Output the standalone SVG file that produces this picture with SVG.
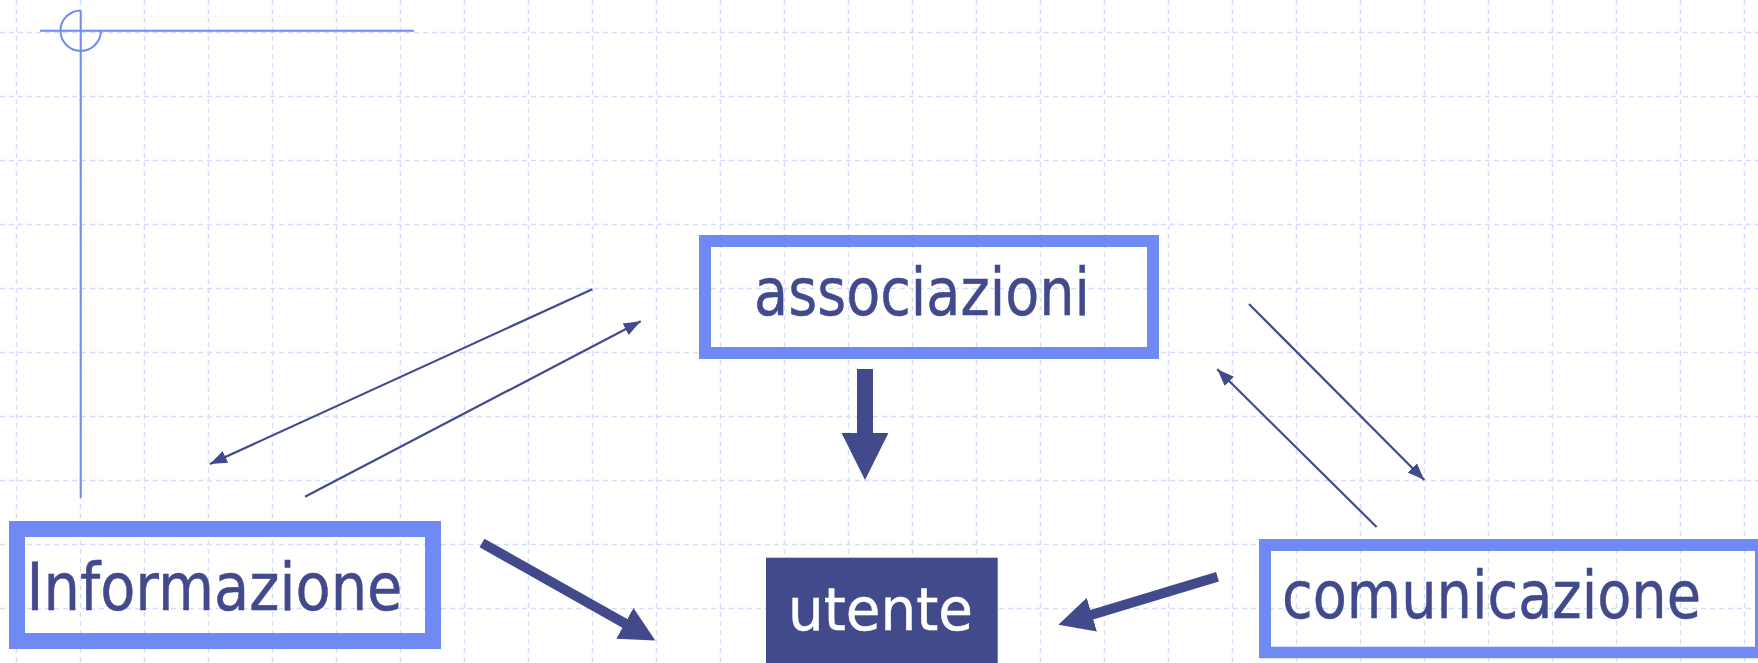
<svg xmlns="http://www.w3.org/2000/svg" width="1758" height="663" viewBox="0 0 1758 663">
  <style>
    .grid line { stroke: #d6ddfa; stroke-width: 1.5; stroke-dasharray: 5 4; }
    .deco { stroke: #6f8af5; stroke-width: 2; fill: none; }
    .box { fill: none; stroke: #6f8af5; }
    .boxp { fill: #6f8af5; fill-rule: evenodd; }
    .lbl { font-family: "DejaVu Sans", "Liberation Sans", sans-serif; fill: #424a8c; stroke: #424a8c; stroke-width: 0.5; }
    .thin { stroke: #424a8c; stroke-width: 2.2; fill: none; }
    .thick { stroke: #424a8c; fill: none; }
  </style>
  <defs>
    <marker id="headThin" markerUnits="userSpaceOnUse" viewBox="0 -8 20 16" markerWidth="20" markerHeight="16" refX="17" refY="0" orient="auto">
      <path d="M0,-6.5 L17,0 L0,6.5 z" fill="#424a8c"/>
    </marker>
    <marker id="headThick" markerUnits="userSpaceOnUse" viewBox="0 -18 36 36" markerWidth="36" markerHeight="36" refX="1" refY="0" orient="auto">
      <path d="M0,-17.6 L35,0 L0,17.6 z" fill="#424a8c"/>
    </marker>
    <marker id="headBig" markerUnits="userSpaceOnUse" viewBox="0 -24 48 48" markerWidth="48" markerHeight="48" refX="1" refY="0" orient="auto">
      <path d="M0,-23.6 L47.3,0 L0,23.6 z" fill="#424a8c"/>
    </marker>
  </defs>
  <rect width="1758" height="663" fill="#ffffff"/>
  <g class="grid">
    <line x1="16.5" y1="0" x2="16.5" y2="663"/>
    <line x1="80.5" y1="0" x2="80.5" y2="663"/>
    <line x1="144.5" y1="0" x2="144.5" y2="663"/>
    <line x1="208.5" y1="0" x2="208.5" y2="663"/>
    <line x1="272.5" y1="0" x2="272.5" y2="663"/>
    <line x1="336.5" y1="0" x2="336.5" y2="663"/>
    <line x1="400.5" y1="0" x2="400.5" y2="663"/>
    <line x1="464.5" y1="0" x2="464.5" y2="663"/>
    <line x1="528.5" y1="0" x2="528.5" y2="663"/>
    <line x1="592.5" y1="0" x2="592.5" y2="663"/>
    <line x1="656.5" y1="0" x2="656.5" y2="663"/>
    <line x1="720.5" y1="0" x2="720.5" y2="663"/>
    <line x1="784.5" y1="0" x2="784.5" y2="663"/>
    <line x1="848.5" y1="0" x2="848.5" y2="663"/>
    <line x1="912.5" y1="0" x2="912.5" y2="663"/>
    <line x1="976.5" y1="0" x2="976.5" y2="663"/>
    <line x1="1040.5" y1="0" x2="1040.5" y2="663"/>
    <line x1="1104.5" y1="0" x2="1104.5" y2="663"/>
    <line x1="1168.5" y1="0" x2="1168.5" y2="663"/>
    <line x1="1232.5" y1="0" x2="1232.5" y2="663"/>
    <line x1="1296.5" y1="0" x2="1296.5" y2="663"/>
    <line x1="1360.5" y1="0" x2="1360.5" y2="663"/>
    <line x1="1424.5" y1="0" x2="1424.5" y2="663"/>
    <line x1="1488.5" y1="0" x2="1488.5" y2="663"/>
    <line x1="1552.5" y1="0" x2="1552.5" y2="663"/>
    <line x1="1616.5" y1="0" x2="1616.5" y2="663"/>
    <line x1="1680.5" y1="0" x2="1680.5" y2="663"/>
    <line x1="1744.5" y1="0" x2="1744.5" y2="663"/>
    <line x1="0" y1="32.5" x2="1758" y2="32.5"/>
    <line x1="0" y1="96.5" x2="1758" y2="96.5"/>
    <line x1="0" y1="160.5" x2="1758" y2="160.5"/>
    <line x1="0" y1="224.5" x2="1758" y2="224.5"/>
    <line x1="0" y1="288.5" x2="1758" y2="288.5"/>
    <line x1="0" y1="352.5" x2="1758" y2="352.5"/>
    <line x1="0" y1="416.5" x2="1758" y2="416.5"/>
    <line x1="0" y1="480.5" x2="1758" y2="480.5"/>
    <line x1="0" y1="544.5" x2="1758" y2="544.5"/>
    <line x1="0" y1="608.5" x2="1758" y2="608.5"/>
  </g>
  <g id="decoration" class="deco">
    <line x1="40" y1="30.7" x2="414" y2="30.7"/>
    <line x1="80.7" y1="10.5" x2="80.7" y2="498"/>
    <path d="M80.7,10.5 A20.2,20.2 0 1 0 100.9,30.7"/>
  </g>
  <g id="node-associazioni">
    <rect class="box" x="705" y="241" width="448" height="112" stroke-width="12"/>
    <text class="lbl" x="754" y="315" font-size="66" textLength="336" lengthAdjust="spacingAndGlyphs">associazioni</text>
  </g>
  <g id="node-informazione">
    <rect class="box" x="17" y="529" width="416" height="112" stroke-width="16"/>
    <text class="lbl" x="26.5" y="610" font-size="66" textLength="376" lengthAdjust="spacingAndGlyphs">Informazione</text>
  </g>
  <g id="node-comunicazione">
    <path class="boxp" d="M1259,539 H1758 V658.3 H1259 Z M1271,551 V646.7 H1755 V551 Z"/>
    <text class="lbl" x="1282" y="618.3" font-size="66" textLength="419" lengthAdjust="spacingAndGlyphs">comunicazione</text>
  </g>
  <g id="node-utente">
    <rect x="766" y="557.7" width="231.7" height="105.3" fill="#424a8c"/>
    <text class="lbl" x="788" y="630" font-size="58" style="fill:#ffffff; stroke:#ffffff" textLength="185" lengthAdjust="spacingAndGlyphs">utente</text>
  </g>
  <g id="connectors">
    <line class="thin" x1="592.3" y1="289.3" x2="210" y2="464" marker-end="url(#headThin)"/>
    <line class="thin" x1="305" y1="496.7" x2="640.7" y2="321.3" marker-end="url(#headThin)"/>
    <line class="thin" x1="1249" y1="304" x2="1424.3" y2="480" marker-end="url(#headThin)"/>
    <line class="thin" x1="1376.6" y1="527" x2="1217.3" y2="369.3" marker-end="url(#headThin)"/>
    <line class="thick" stroke-width="16" x1="865" y1="369" x2="865" y2="433.7" marker-end="url(#headBig)"/>
    <line class="thick" stroke-width="10" x1="482" y1="543" x2="625.7" y2="623.8" marker-end="url(#headThick)"/>
    <line class="thick" stroke-width="10" x1="1217.5" y1="576.7" x2="1090.9" y2="615" marker-end="url(#headThick)"/>
  </g>
</svg>
